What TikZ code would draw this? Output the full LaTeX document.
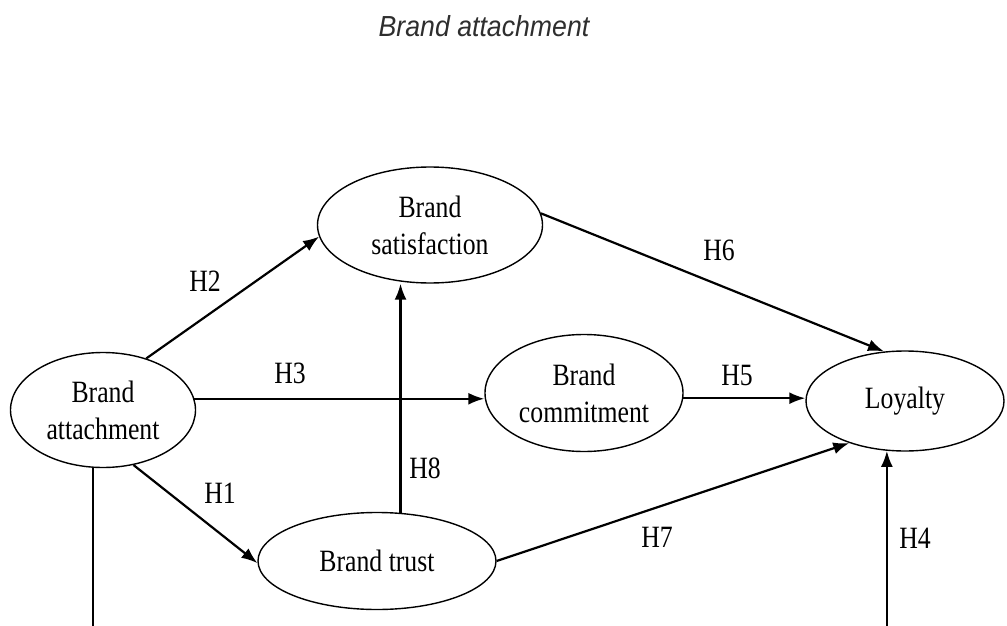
\documentclass[tikz,border=0pt]{standalone}
\usepackage{fontspec}
\setmainfont{Liberation Serif}
\newfontfamily\bodyfont[FakeStretch=0.83]{Liberation Serif}
\newfontfamily\titlefont[FakeStretch=0.92]{Liberation Sans}
\usetikzlibrary{shapes.geometric,arrows.meta}
\tikzset{
  construct/.style={ellipse,draw,line width=1.4pt,inner sep=0pt,align=center,
    font=\bodyfont\fontsize{31}{37}\selectfont},
  hlabel/.style={font=\bodyfont\fontsize{31}{37}\selectfont,inner sep=0pt},
  hyp/.style={line width=2.2pt,-{Latex[length=16pt,width=12pt]}},
  plainline/.style={line width=2.2pt}
}
\begin{document}
\begin{tikzpicture}[x=1pt,y=-1pt]
\useasboundingbox[fill=white] (0,0) rectangle (1007,626);
\node[anchor=base,font=\titlefont\itshape\fontsize{29}{34}\selectfont,text=black!82,inner sep=0pt] (title) at (484,37) {Brand attachment};

\node[construct,minimum width=185pt,minimum height=115pt] (att) at (103,410) {Brand\\attachment};
\node[construct,minimum width=225pt,minimum height=116pt] (sat) at (430,225) {Brand\\satisfaction};
\node[construct,minimum width=198pt,minimum height=117pt] (com) at (584,393) {Brand\\commitment};
\node[construct,minimum width=198pt,minimum height=100pt] (loy) at (905,401) {Loyalty};
\node[construct,minimum width=238pt,minimum height=97pt] (tru) at (377,561) {Brand trust};

\coordinate (bottom) at (0,626);

\draw[hyp] (att.50) -- (sat.186);
\draw[hyp] (att.7) -- (att.7 -| com.west);
\draw[hyp] (att.-61) -- (tru.181);
\draw[hyp] (com.357) -- (com.357 -| loy.west);
\draw[hyp] (sat.6) -- (loy.113);
\draw[hyp] (tru.east) -- (loy.217);
\draw[hyp] (tru.64) -- (tru.64 |- sat.south);
\draw[plainline] (att.260) -- (att.260 |- bottom);
\draw[hyp] (loy.250 |- bottom) -- (loy.250);

\node[hlabel] (h2) at (205,281) {H2};
\node[hlabel] (h3) at (290,373) {H3};
\node[hlabel] (h1) at (220,493) {H1};
\node[hlabel] (h8) at (425,468) {H8};
\node[hlabel] (h6) at (719,250) {H6};
\node[hlabel] (h5) at (737,375) {H5};
\node[hlabel] (h7) at (657,537) {H7};
\node[hlabel] (h4) at (915,538) {H4};
\end{tikzpicture}
\end{document}
